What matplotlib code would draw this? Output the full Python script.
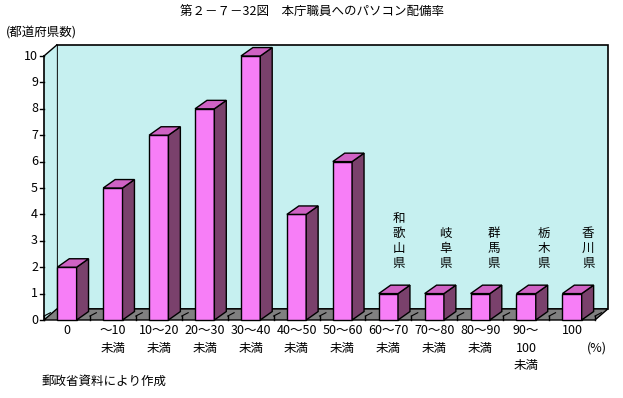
import numpy as np
import matplotlib
matplotlib.use("Agg")
import matplotlib.pyplot as plt
from matplotlib.patches import Polygon

plt.rcParams['font.family'] = ['Noto Sans CJK JP', 'DejaVu Sans']

# data
categories = ["0", "～10\n未満", "10～20\n未満", "20～30\n未満", "30～40\n未満",
              "40～50\n未満", "50～60\n未満", "60～70\n未満", "70～80\n未満",
              "80～90\n未満", "90～\n100\n未満", "100"]
counts = [2, 5, 7, 8, 10, 4, 6, 1, 1, 1, 1, 1]
pref_idx = [7, 8, 9, 10, 11]
pref_names = ["和歌山県", "岐阜県", "群馬県", "栃木県", "香川県"]

face_c = "#f77ef7"
side_c = "#7a416c"
top_c = "#cf62c4"
wall_c = "#c6f0f0"
floor_c = "#808080"

fig = plt.figure(figsize=(6.23, 3.98), dpi=100)
ax = fig.add_axes([44 / 623, 78 / 398, 551 / 623, 264 / 398])
n = len(counts)
ax.set_xlim(-0.5, n - 0.5)
ax.set_ylim(0, 10)
ax.axis("off")

# depth offsets (data units)
wdx, wdy = 0.28, 0.42   # wall depth
bdx, bdy = 0.26, 0.32   # bar depth
bw = 0.42               # bar face width
x0, x1 = -0.5, n - 0.5

# back wall + left wall
ax.add_patch(Polygon([(x0 + wdx, wdy), (x1 + wdx, wdy), (x1 + wdx, 10 + wdy), (x0 + wdx, 10 + wdy)],
                     closed=True, fc=wall_c, ec="black", lw=1.2, clip_on=False, zorder=1))
ax.add_patch(Polygon([(x0, 0), (x0 + wdx, wdy), (x0 + wdx, 10 + wdy), (x0, 10)],
                     closed=True, fc=wall_c, ec="none", clip_on=False, zorder=1))
ax.plot([x0, x0 + wdx], [10, 10 + wdy], color="black", lw=1, clip_on=False, zorder=2)
ax.plot([x0, x0], [0, 10], color="black", lw=1.2, clip_on=False, zorder=5)
# floor
ax.add_patch(Polygon([(x0, 0), (x1, 0), (x1 + wdx, wdy), (x0 + wdx, wdy)],
                     closed=True, fc=floor_c, ec="black", lw=1, clip_on=False, zorder=2))
for b in np.arange(x0, x1 + 0.01, 1.0):
    ax.plot([b, b], [0, 0.15], color="black", lw=1, clip_on=False, zorder=3)
    ax.plot([b, b + wdx * 0.5], [0.15, 0.15 + wdy * 0.3], color="black", lw=0.8, clip_on=False, zorder=3)

# y ticks
for v in range(0, 11):
    ax.plot([x0 - 0.09, x0], [v, v], color="black", lw=1, clip_on=False, zorder=5)
    ax.text(x0 - 0.13, v, str(v), ha="right", va="center", fontsize=9, clip_on=False)

# bars
xs = np.arange(n)
ax.bar(xs, counts, width=bw, color=face_c, edgecolor="black", linewidth=1, zorder=4, clip_on=False)
for x, h in zip(xs, counts):
    l, r = x - bw / 2, x + bw / 2
    ax.add_patch(Polygon([(r, 0), (r + bdx, bdy), (r + bdx, h + bdy), (r, h)],
                         closed=True, fc=side_c, ec="black", lw=1, zorder=4, clip_on=False))
    ax.add_patch(Polygon([(l, h), (r, h), (r + bdx, h + bdy), (l + bdx, h + bdy)],
                         closed=True, fc=top_c, ec="black", lw=1, zorder=4, clip_on=False))

# category labels
for x, lab in zip(xs, categories):
    ax.text(x, -0.17, lab, ha="center", va="top", fontsize=9, linespacing=1.45, clip_on=False)
ax.text(x1 + 0.05, -0.82, "(%)", ha="center", va="top", fontsize=9, clip_on=False)

# prefecture annotations (vertical)
offs = [0.22, 0.24, 0.3, 0.39, 0.35]
for i, name, o in zip(pref_idx, pref_names, offs):
    ax.text(i + o, 1.9, "\n".join(name), ha="center", va="bottom", fontsize=9,
            linespacing=1.2, clip_on=False)

fig.text(0.5, 1 - 12 / 398, "第２－７－32図　本庁職員へのパソコン配備率", ha="center", va="center", fontsize=9)
fig.text(6 / 623, 1 - 32 / 398, "(都道府県数)", ha="left", va="center", fontsize=9)
fig.text(42 / 623, 1 - 381 / 398, "郵政省資料により作成", ha="left", va="center", fontsize=9)

fig.savefig("out.png", dpi=100)
